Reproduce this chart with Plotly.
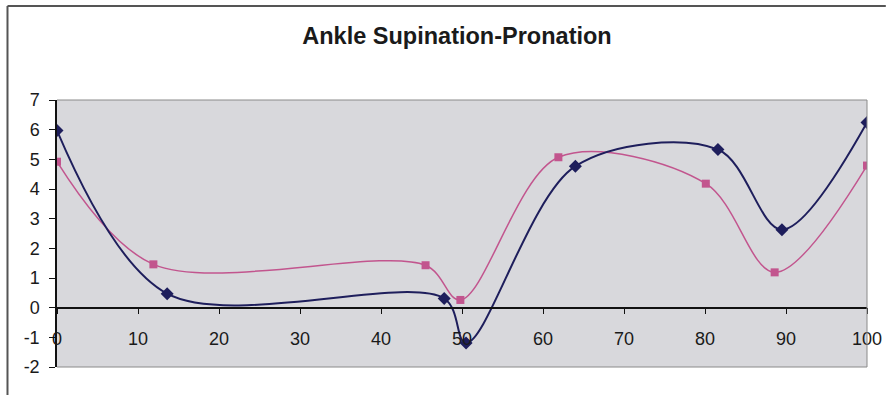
import plotly.graph_objects as go

# Gait cycle (%) and ankle supination-pronation angle for two series
blue_x = [0, 13.6, 47.8, 50.5, 64.0, 81.6, 89.5, 100]
blue_y = [5.97, 0.47, 0.31, -1.19, 4.77, 5.33, 2.63, 6.24]

pink_x = [0, 11.9, 45.5, 49.8, 61.9, 80.1, 88.6, 100]
pink_y = [4.92, 1.46, 1.43, 0.26, 5.07, 4.18, 1.19, 4.79]

x_ticks = [0, 10, 20, 30, 40, 50, 60, 70, 80, 90, 100]
y_ticks = [-2, -1, 0, 1, 2, 3, 4, 5, 6, 7]
y_tick_text = ["-2", "-1", "0", "1", "2", "3", "4", "5", "6", "7"]

W, H = 894, 395
L, R, T, B = 57, 19, 100, 28
pw, ph = W - L - R, H - T - B

def px_x(p):
    return (p - L) / pw

def px_y(p):
    return (H - B - p) / ph

fig = go.Figure()
fig.add_trace(go.Scatter(
    x=pink_x, y=pink_y, mode="lines+markers",
    line=dict(color="#C2558E", width=1.5, shape="spline", smoothing=0.95),
    marker=dict(symbol="square", size=8, color="#C2558E"),
    name="Series 2",
))
fig.add_trace(go.Scatter(
    x=blue_x, y=blue_y, mode="lines+markers",
    line=dict(color="#1E1E5C", width=2, shape="spline", smoothing=0.95),
    marker=dict(symbol="diamond", size=10, color="#1E1E5C"),
    name="Series 1",
))

y0_frac = (0 - y_ticks[0]) / (y_ticks[-1] - y_ticks[0])

fig.update_layout(
    width=W, height=H,
    margin=dict(l=L, r=R, t=T, b=B),
    paper_bgcolor="white",
    plot_bgcolor="#D8D8DC",
    showlegend=False,
    font=dict(family="Liberation Sans, Arial, sans-serif", color="#1a1a1a", size=18),
    title=dict(
        text="<b>Ankle Supination-Pronation</b>",
        x=457 / W, xanchor="center",
        y=1 - 36 / H, yanchor="middle",
        font=dict(size=23.5, color="#1a1a1a"),
    ),
    xaxis=dict(
        range=[0, 100], tickvals=x_ticks, showgrid=False, zeroline=False,
        showline=True, linecolor="#111", linewidth=1.5,
        ticks="outside", ticklen=6, tickcolor="#111",
        anchor="free", position=y0_frac,
        ticklabelstandoff=9,
    ),
    yaxis=dict(
        range=[y_ticks[0], y_ticks[-1]], tickvals=y_ticks, ticktext=y_tick_text,
        showgrid=False, zeroline=False, showline=True, linecolor="#111",
        linewidth=1.5, ticks="outside", ticklen=6, tickcolor="#111",
        ticklabelstandoff=6,
    ),
    shapes=[
        # plot area frame (top, right, bottom)
        dict(type="line", xref="paper", yref="paper", x0=0, x1=1, y0=1, y1=1,
             line=dict(color="#8a8a8a", width=1)),
        dict(type="line", xref="paper", yref="paper", x0=1, x1=1, y0=0, y1=1,
             line=dict(color="#8a8a8a", width=1)),
        dict(type="line", xref="paper", yref="paper", x0=0, x1=1, y0=0, y1=0,
             line=dict(color="#8a8a8a", width=1)),
        # outer chart frame (top and left)
        dict(type="line", xref="paper", yref="paper",
             x0=px_x(7), x1=px_x(W), y0=px_y(6), y1=px_y(6),
             line=dict(color="#555", width=2)),
        dict(type="line", xref="paper", yref="paper",
             x0=px_x(7), x1=px_x(7), y0=px_y(6), y1=px_y(H),
             line=dict(color="#555", width=2)),
    ],
)

fig.write_html("out.html")
